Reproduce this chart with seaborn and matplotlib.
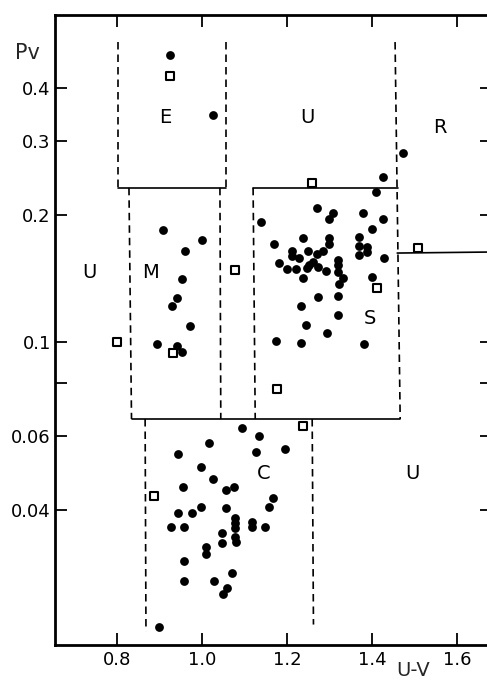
import matplotlib
matplotlib.use("Agg")
import matplotlib.pyplot as plt
import seaborn as sns
import pandas as pd
from matplotlib.ticker import FixedLocator, NullLocator, FixedFormatter

sns.set_style("ticks")
plt.rcParams['font.family'] = ['DejaVu Sans', 'Liberation Sans']

# ---------------- data (U-V colour, visual albedo pv) ----------------
# filled circles
e_circ_uv = [0.925, 1.026]
e_circ_pv = [0.479, 0.345]
m_circ_uv = [0.908, 1.000, 0.960, 0.953, 0.941, 0.929, 0.972, 0.894, 0.941, 0.953]
m_circ_pv = [0.184, 0.1745, 0.164, 0.141, 0.127, 0.122, 0.109, 0.099, 0.098, 0.0947]
s_circ_uv = [1.473, 1.426, 1.409, 1.271, 1.308, 1.299, 1.379, 1.426, 1.139, 1.400,
             1.238, 1.299, 1.369, 1.169, 1.299, 1.369, 1.388, 1.388, 1.212, 1.249,
             1.285, 1.271, 1.212, 1.369, 1.228, 1.428, 1.320, 1.181, 1.261, 1.252,
             1.320, 1.200, 1.221, 1.247, 1.273, 1.292, 1.320, 1.238, 1.332, 1.400,
             1.322, 1.273, 1.320, 1.233, 1.320, 1.245, 1.294, 1.174, 1.233, 1.381]
s_circ_pv = [0.280, 0.246, 0.227, 0.208, 0.202, 0.196, 0.202, 0.196, 0.1925, 0.185,
             0.176, 0.176, 0.177, 0.171, 0.171, 0.169, 0.168, 0.163, 0.164, 0.164,
             0.164, 0.1617, 0.160, 0.1607, 0.158, 0.158, 0.1564, 0.154, 0.1547, 0.152,
             0.152, 0.149, 0.149, 0.1497, 0.1506, 0.147, 0.1465, 0.1418, 0.1418, 0.1426,
             0.1372, 0.128, 0.1285, 0.1217, 0.1159, 0.1097, 0.105, 0.1006, 0.0995, 0.099]
c_circ_uv = [1.094, 1.134, 1.016, 1.195, 1.127, 0.944, 0.998, 1.026, 0.955, 1.075,
             1.056, 1.167, 1.158, 0.998, 1.056, 0.944, 0.976, 1.078, 1.078, 1.078,
             1.118, 1.118, 1.148, 0.927, 0.958, 1.047, 1.078, 1.080, 1.047, 1.009,
             1.009, 0.958, 1.071, 0.958, 1.028, 1.059, 1.049, 0.899]
c_circ_pv = [0.0626, 0.0599, 0.0576, 0.0558, 0.0549, 0.0543, 0.0506, 0.0474, 0.0453, 0.0453,
             0.0446, 0.0427, 0.0406, 0.0406, 0.0404, 0.0393, 0.0393, 0.0383, 0.0373, 0.0362,
             0.0375, 0.0364, 0.0364, 0.0364, 0.0364, 0.0353, 0.0345, 0.0336, 0.0334, 0.0327,
             0.0315, 0.0303, 0.0284, 0.0272, 0.0272, 0.0261, 0.0253, 0.0211]
# open squares
sq_uv = [0.925, 0.800, 0.932, 1.078, 1.259, 1.412, 1.176, 1.508, 1.238, 0.887]
sq_pv = [0.427, 0.100, 0.0942, 0.148, 0.238, 0.1343, 0.0774, 0.167, 0.0632, 0.0432]

# class region labels
region_names = ['E', 'U', 'R', 'U', 'M', 'S', 'C', 'U']
region_uv = [0.913, 1.249, 1.56, 0.736, 0.878, 1.395, 1.144, 1.494]
region_pv = [0.341, 0.341, 0.323, 0.146, 0.146, 0.114, 0.0487, 0.0487]

x_ticks = [0.8, 1.0, 1.2, 1.4, 1.6]
x_ticklabels = ['0.8', '1.0', '1.2', '1.4', '1.6']
y_ticks = [0.04, 0.06, 0.08, 0.1, 0.2, 0.3, 0.4]
y_ticklabels = ['0.04', '0.06', '', '0.1', '0.2', '0.3', '0.4']

circ = pd.DataFrame({
    'uv': e_circ_uv + m_circ_uv + s_circ_uv + c_circ_uv,
    'pv': e_circ_pv + m_circ_pv + s_circ_pv + c_circ_pv,
})
sq = pd.DataFrame({'uv': sq_uv, 'pv': sq_pv})

# ---------------- figure ----------------
W, H = 487, 682
fig = plt.figure(figsize=(W / 100, H / 100), dpi=100)
ax = fig.add_axes([55 / W, 37 / H, (492 - 55) / W, 630 / H])
ax.set_yscale('log')

sns.scatterplot(data=circ, x='uv', y='pv', ax=ax, marker='o', s=40,
                color='black', edgecolor='black', linewidth=0, zorder=3)
sns.scatterplot(data=sq, x='uv', y='pv', ax=ax, marker='s', s=26,
                facecolor='white', edgecolor='black', linewidth=1.5, zorder=3)

ax.set_xlim(0.654, 1.682)
ax.set_ylim(0.01914, 0.5957)

lw = 1.2
dash = (0, (4.5, 3))
k = 'black'
# E box
ax.plot([0.802, 0.802], [0.514, 0.232], color=k, lw=lw, ls=dash)
ax.plot([1.056, 1.056], [0.514, 0.232], color=k, lw=lw, ls=dash)
ax.plot([0.802, 1.056], [0.232, 0.232], color=k, lw=lw)
# M box
ax.plot([0.828, 0.834], [0.232, 0.0657], color=k, lw=lw, ls=dash)
ax.plot([1.042, 1.044], [0.232, 0.0657], color=k, lw=lw, ls=dash)
# S box
ax.plot([1.120, 1.460], [0.232, 0.232], color=k, lw=lw)
ax.plot([1.120, 1.125], [0.232, 0.0657], color=k, lw=lw, ls=dash)
ax.plot([1.454, 1.466], [0.514, 0.0657], color=k, lw=lw, ls=dash)
# common horizontal line M/S -- C
ax.plot([0.834, 1.466], [0.0657, 0.0657], color=k, lw=lw)
# R boundary
ax.plot([1.459, 1.70], [0.1625, 0.1635], color=k, lw=lw)
# C box
ax.plot([0.866, 0.868], [0.0657, 0.0206], color=k, lw=lw, ls=dash)
ax.plot([1.259, 1.262], [0.0657, 0.0214], color=k, lw=lw, ls=dash)

for name, xv, yv in zip(region_names, region_uv, region_pv):
    ax.text(xv, yv, name, ha='center', va='center', fontsize=14, color=k)

ax.xaxis.set_major_locator(FixedLocator(x_ticks))
ax.xaxis.set_major_formatter(FixedFormatter(x_ticklabels))
ax.yaxis.set_major_locator(FixedLocator(y_ticks))
ax.yaxis.set_major_formatter(FixedFormatter(y_ticklabels))
ax.yaxis.set_minor_locator(NullLocator())
ax.xaxis.set_minor_locator(NullLocator())
ax.tick_params(direction='in', length=8.5, width=1.3, top=True, right=True,
               labelsize=13, color=k, labelcolor=k)
ax.tick_params(axis='x', pad=4)
ax.tick_params(axis='y', pad=3)
for sp in ax.spines.values():
    sp.set_linewidth(2.0)
    sp.set_color(k)
ax.set_xlabel('')
ax.set_ylabel('')

fig.text(27 / W, 1 - 53 / H, 'Pv', ha='center', va='center', fontsize=15)
fig.text(413 / W, 1 - 671 / H, 'U-V', ha='center', va='center', fontsize=14)

fig.savefig('out.png', dpi=100)
